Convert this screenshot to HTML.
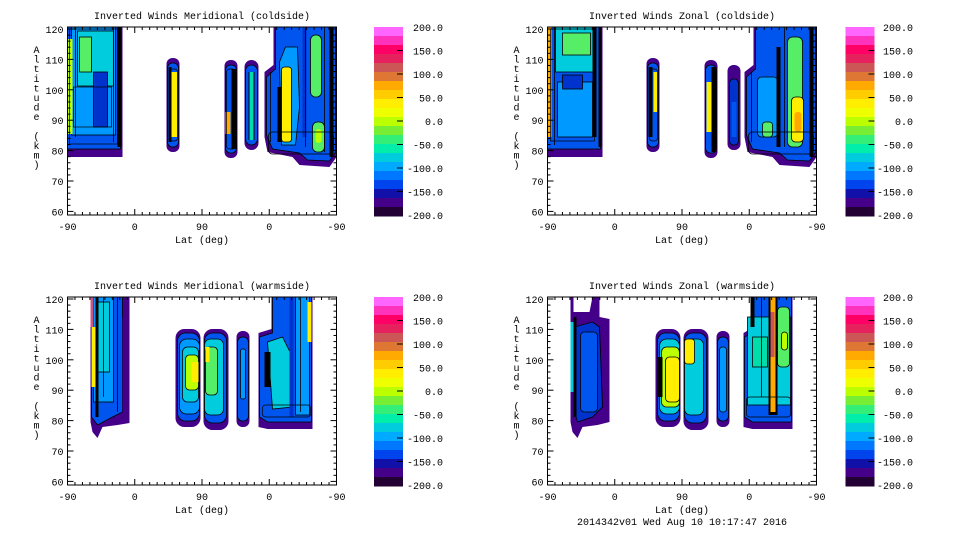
<!DOCTYPE html>
<html><head><meta charset="utf-8">
<style>
html,body{margin:0;padding:0;background:#fff;width:960px;height:540px;overflow:hidden}
svg{display:block}
text{font-family:"Liberation Mono","DejaVu Sans Mono",monospace;font-size:10px;fill:#000}
</style></head><body>
<svg id="s" width="960" height="540" xmlns="http://www.w3.org/2000/svg"></svg>
<script>
var C=['#ff66ff','#ff33bb','#ff0066','#e6225e','#cc5555','#dd7733','#ffaa00','#ffcc00','#ffee00','#eeff00','#bbff00','#77ee33','#33ee77','#00eeaa','#00ccdd','#00aaff','#0077ff','#0044ee','#1111aa','#440088','#220033'];
var P1='#440088',BL='#0055ee',B2='#0033cc',SK='#0099ff',CY='#00ccdd',TE='#00ddaa',GR='#55ee66',LI='#bbff00',YE='#ffee00',OR='#ffaa00',BK='#000000';
function r(x,y,w,h,f,rx,st){return '<rect x="'+x+'" y="'+y+'" width="'+w+'" height="'+h+'" fill="'+f+'"'+(rx?' rx="'+rx+'"':'')+(st?' stroke="#000" stroke-width="0.8"':'')+'/>';}
function o(x,y,w,h,rx){return '<rect x="'+x+'" y="'+y+'" width="'+w+'" height="'+h+'" fill="none" stroke="#000" stroke-width="0.7"'+(rx?' rx="'+rx+'"':'')+'/>';}
function v(x,y1,y2){return '<line x1="'+x+'" y1="'+y1+'" x2="'+x+'" y2="'+y2+'" stroke="#000" stroke-width="0.8"/>';}
function p(d,f,st){return '<path d="'+d+'" fill="'+f+'"'+(st?' stroke="#000" stroke-width="0.8"':'')+'/>';}
function panel(ox,oy,title,cbx,lblx,data,footer){
 var s='<g transform="translate('+ox+','+oy+')">';
 s+=data;
 s+='<rect x="0" y="0" width="269" height="188" fill="none" stroke="#000" stroke-width="1"/>';
 for(var a=60;a<=120;a+=2){var y=2+(120-a)*3.04;var L=(a%10==0)?6:3;
  s+='<line x1="0" y1="'+y+'" x2="'+L+'" y2="'+y+'" stroke="#000"/><line x1="269" y1="'+y+'" x2="'+(269-L)+'" y2="'+y+'" stroke="#000"/>';
  if(a%10==0)s+='<text x="-4" y="'+(y+4)+'" text-anchor="end">'+a+'</text>';}
 for(var d=0;d<=360;d+=10){var x=d*269/360;var L=(d%90==0)?6:3;
  s+='<line x1="'+x+'" y1="188" x2="'+x+'" y2="'+(188-L)+'" stroke="#000"/><line x1="'+x+'" y1="0" x2="'+x+'" y2="'+L+'" stroke="#000"/>';}
 var xl=['-90','0','90','0','-90'];
 for(var i=0;i<5;i++)s+='<text x="'+(i*67.25)+'" y="203" text-anchor="middle">'+xl[i]+'</text>';
 s+='<text x="134.5" y="216" text-anchor="middle">Lat (deg)</text>';
 s+='<text x="134.5" y="-8" text-anchor="middle">'+title+'</text>';
 var al='Altitude (km)';
 for(var i=0;i<al.length;i++)s+='<text x="-31" y="'+(26+i*9.6)+'" text-anchor="middle">'+al[i]+'</text>';
 var bh=189/21;
 for(var i=0;i<21;i++)s+='<rect x="'+cbx+'" y="'+(i*bh)+'" width="29" height="'+(bh+0.5)+'" fill="'+C[i]+'"/>';
 var lb=['200.0','150.0','100.0','50.0','0.0','-50.0','-100.0','-150.0','-200.0'];
 for(var i=0;i<9;i++){var y=i*23.5;
  if(i>0&&i<8)s+='<line x1="'+(cbx+23)+'" y1="'+y+'" x2="'+(cbx+29)+'" y2="'+y+'" stroke="#000"/>';
  s+='<text x="'+lblx+'" y="'+(y+4)+'" text-anchor="end">'+lb[i]+'</text>';}
 if(footer)s+='<text x="134.5" y="228" text-anchor="middle">'+footer+'</text>';
 return s+'</g>';
}
var d1='';
d1+=r(0,0,55,130,P1)+r(0,0,53,122,BL,0,1)+r(4,0,44,108,SK,0,1)+r(10,4,36,55,CY,0,1)+r(12,10,12,35,GR,0,1)+r(0,12,5,95,LI)+r(26,45,14,55,B2,0,1)+r(50,0,4,120,BK)+o(2,2,48,115)+o(6,60,38,40)+v(8,0,110)+v(46,0,115);
d1+=r(99,31,13,94,P1,6)+r(100,36,11,84,BL,5,1)+r(104,45,6,65,YE)+r(101,40,3,75,BK)+o(102,42,8,72,3);
d1+=r(157,33,13,98,P1,6)+r(158,38,11,88,BL,5,1)+r(164,42,5,80,BK)+r(158,85,5,22,OR)+o(159,42,9,80,3);
d1+=r(177,33,14,90,P1,7)+r(178,38,12,80,BL,6,1)+r(181,45,6,68,BK)+r(182,45,4,68,TE);
d1+=p('M197,45 L197,110 L200,125 L225,130 L232,138 L262,140 L269,130 L269,0 L206,0 L206,38 Z',P1);
d1+=p('M199,50 L199,108 L205,122 L232,126 L240,133 L262,134 L268,125 L268,0 L208,0 L208,42 Z',BL,1);
d1+=p('M212,35 L218,20 L230,20 L232,80 L228,118 L214,118 Z',SK,1);
d1+=r(214,40,10,75,YE,3,1)+r(210,60,4,55,BK)+r(243,8,11,62,GR,5,1)+r(245,95,12,30,GR,5,1)+r(248,102,6,14,LI,3)+r(262,0,4,130,BK)+r(235,0,4,110,B2)+v(203,45,115)+v(238,0,120)+v(257,0,125)+o(201,105,65,22,4);
var d2='';
d2+=r(0,0,55,130,P1)+r(0,0,53,122,BL,0,1)+r(8,0,40,45,CY,0,1)+r(15,6,28,22,GR,0,1)+r(10,55,35,55,SK,0,1)+r(15,48,20,14,B2,0,1)+r(0,0,4,110,OR)+r(45,0,4,110,BK)+r(51,0,3,120,BK)+o(3,2,44,112)+v(7,0,118);
d2+=r(99,31,13,94,P1,6)+r(100,36,11,84,BL,5,1)+r(101,40,4,70,BK)+r(106,45,4,40,YE)+o(102,42,8,72,3);
d2+=r(157,33,13,98,P1,6)+r(158,38,11,88,BL,5,1)+r(164,40,5,85,BK)+r(159,55,5,50,YE);
d2+=r(180,38,13,85,P1,6)+r(182,52,9,66,B2,4,1)+r(184,75,5,35,BL);
d2+=p('M197,45 L197,110 L200,125 L225,130 L232,138 L262,140 L269,130 L269,0 L206,0 L206,38 Z',P1);
d2+=p('M199,50 L199,108 L205,122 L232,126 L240,133 L262,134 L268,125 L268,0 L208,0 L208,42 Z',BL,1);
d2+=r(210,50,20,60,SK,4,1)+r(215,95,10,15,GR,3,1)+r(240,10,15,110,GR,5,1)+r(244,70,12,45,YE,4,1)+r(247,85,7,20,OR,3)+r(229,20,4,100,BK)+r(262,0,4,130,BK)+v(204,45,115)+v(237,0,120)+o(201,105,65,22,4);
var d3='';
d3+=p('M23,0 L62,0 L62,126 L50,128 L35,130 L30,141 L25,135 L23,125 Z',P1);
d3+=p('M24,0 L55,0 L55,115 L45,120 L30,128 L24,120 Z',BL,1);
d3+=r(26,0,20,105,SK,0,1)+r(30,5,12,70,CY,0,1)+r(23,0,3,30,'#cc5588')+r(24,30,4,60,YE)+r(28,0,3,120,BK)+r(55,20,6,100,P1)+v(36,0,100)+v(50,0,115);
d3+=r(108,32,25,98,P1,9)+r(110,36,22,88,BL,8,1)+r(112,42,20,75,SK,7,1)+r(115,50,16,55,CY,5,1)+r(118,58,13,35,LI,4,1)+r(124,65,7,20,YE);
d3+=r(136,32,25,101,P1,9)+r(137,36,22,90,BL,8,1)+r(137,42,19,76,CY,6,1)+r(138,50,12,48,GR,4,1)+r(138,50,4,15,YE)+r(134,32,2,100,'#fff');
d3+=r(169,34,13,96,P1,6)+r(170,40,11,84,BL,5,1)+r(173,52,5,50,SK,2,1);
d3+=p('M191,36 L191,130 L200,132 L245,132 L245,0 L204,0 L204,32 Z',P1);
d3+=p('M192,40 L192,120 L200,125 L244,125 L244,0 L205,0 L205,36 Z',BL,1);
d3+=p('M200,45 L215,40 L225,60 L225,110 L205,112 Z',CY,1)+r(228,0,14,118,SK,0,1)+r(197,55,6,35,BK)+r(240,5,4,40,YE)+r(222,0,4,120,B2)+o(195,108,48,12,3)+v(233,0,115);
var d4='';
d4+=p('M23,0 L26,0 L26,15 L42,15 L45,0 L52,0 L52,20 L62,22 L62,125 L50,128 L35,130 L30,141 L25,135 L23,125 Z',P1);
d4+=p('M27,30 L45,25 L52,30 L55,110 L45,120 L30,125 L27,115 Z',B2,1);
d4+=r(33,35,17,80,BL,4,1)+r(23,25,4,70,CY)+r(26,20,3,100,BK);
d4+=r(108,32,25,98,P1,9)+r(110,36,22,88,BL,8,1)+r(112,42,20,75,CY,7,1)+r(114,50,18,60,LI,5,1)+r(118,60,14,45,YE,4,1)+r(110,60,5,40,BK);
d4+=r(136,32,25,101,P1,9)+r(137,36,22,90,BL,8,1)+r(137,42,19,76,CY,6,1)+r(137,42,10,25,YE,3,1);
d4+=r(169,34,13,96,P1,6)+r(170,40,11,84,BL,5,1)+r(172,50,7,65,SK,3,1);
d4+=p('M196,36 L196,130 L205,132 L245,132 L245,0 L203,0 L203,32 Z',P1);
d4+=p('M197,40 L197,120 L205,125 L244,125 L244,0 L205,0 L205,36 Z',BL,1);
d4+=r(200,20,43,88,CY,0,1)+r(205,40,15,30,TE,0,1)+r(230,10,12,60,GR,4,1)+r(234,35,6,18,LI,3,1)+r(221,0,9,118,BK)+r(223,0,5,115,OR)+r(223,15,4,45,'#cc5555')+r(203,0,4,30,BK)+o(199,100,44,20,3)+v(214,0,100);
var s='';
s+=panel(67.5,27,'Inverted Winds Meridional (coldside)',306.5,375.5,d1);
s+=panel(547.5,27,'Inverted Winds Zonal (coldside)',298,365.5,d2);
s+=panel(67.5,297,'Inverted Winds Meridional (warmside)',306.5,375.5,d3);
s+=panel(547.5,297,'Inverted Winds Zonal (warmside)',298,365.5,d4,'2014342v01 Wed Aug 10 10:17:47 2016');
document.getElementById('s').innerHTML=s;
</script>
</body></html>
